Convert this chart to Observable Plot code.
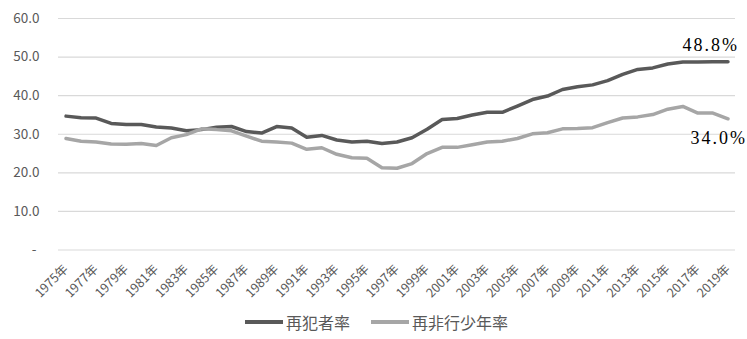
<!DOCTYPE html>
<html>
<head>
<meta charset="utf-8">
<script src="https://cdn.jsdelivr.net/npm/d3@7"></script>
<script src="https://cdn.jsdelivr.net/npm/@observablehq/plot@0.6"></script>
<style>
  body { margin: 0; background: #fff; font-family: "Noto Sans CJK JP", "Noto Sans", sans-serif; }
  #chart { width: 747px; }
  .legend { display: flex; align-items: center; height: 34px; margin-left: 245px; font-size: 16px; color: #595959; }
  .item { display: flex; align-items: center; margin-right: 21px; }
  .sw { width: 38px; height: 3.5px; margin-right: 3px; }
</style>
</head>
<body>
<div id="chart"></div>
<script>
const years = d3.range(1975, 2020);
const seriesNames = ["再犯者率", "再非行少年率"];
const seriesColors = ["#595959", "#a6a6a6"];
const recidivism = [
  34.7, 34.3, 34.2, 32.8, 32.5, 32.5, 31.9, 31.6, 30.9, 31.2,
  31.8, 32.0, 30.7, 30.3, 32.0, 31.6, 29.2, 29.7, 28.5, 28.0,
  28.2, 27.6, 28.0, 29.1, 31.3, 33.8, 34.1, 35.0, 35.7, 35.7,
  37.3, 39.0, 39.9, 41.6, 42.3, 42.8, 43.9, 45.5, 46.8, 47.2,
  48.2, 48.7, 48.7, 48.8, 48.8
];
const juvenile = [
  28.9, 28.2, 28.0, 27.5, 27.4, 27.6, 27.1, 29.1, 29.9, 31.4,
  31.2, 30.9, 29.5, 28.2, 28.0, 27.7, 26.1, 26.5, 24.8, 23.9,
  23.8, 21.3, 21.2, 22.4, 25.0, 26.6, 26.6, 27.3, 28.0, 28.2,
  28.9, 30.1, 30.4, 31.4, 31.5, 31.7, 33.0, 34.2, 34.5, 35.1,
  36.5, 37.2, 35.5, 35.5, 34.0
];
const yTicks = [0, 10, 20, 30, 40, 50, 60];
const xTicks = d3.range(1975, 2020, 2);
const endLabels = ["48.8%", "34.0%"];

const rows = [];
years.forEach((y, i) => {
  rows.push({year: y, value: recidivism[i], series: seriesNames[0]});
  rows.push({year: y, value: juvenile[i], series: seriesNames[1]});
});
const last = years.length - 1;

const chart = Plot.plot({
  width: 747,
  height: 305,
  marginTop: 18,
  marginBottom: 55.5,
  marginLeft: 58,
  marginRight: 12,
  style: {fontFamily: "'Noto Sans CJK JP', 'Noto Sans', sans-serif", background: "#fff"},
  x: {domain: [1974.5, 2019.5], axis: null},
  y: {domain: [0, 60], axis: null},
  color: {domain: seriesNames, range: seriesColors},
  marks: [
    Plot.gridY(yTicks, {stroke: "#d9d9d9", strokeOpacity: 1, strokeWidth: 1.2}),
    Plot.axisY(yTicks, {tickSize: 0, tickPadding: 19, fontSize: 13.5, fill: "#595959", label: null,
      tickFormat: d => d === 0 ? "-\u00a0" : d.toFixed(1)}),
    Plot.text(xTicks, {x: d => d, y: () => 0, text: d => d + "年", rotate: -45, textAnchor: "end",
      dx: 0, dy: 17, fontSize: 12.5, fill: "#595959"}),
    Plot.line(rows, {x: "year", y: "value", z: "series", stroke: "series", strokeWidth: 3.5,
      curve: "linear", strokeLinejoin: "round", strokeLinecap: "round"}),
    Plot.text([0], {x: () => years[last], y: () => recidivism[last], text: () => endLabels[0],
      textAnchor: "end", lineAnchor: "bottom", dx: 11, dy: -11, fontSize: 18,
      fontFamily: "'Liberation Serif', serif", fill: "#000"}),
    Plot.text([0], {x: () => years[last], y: () => juvenile[last], text: () => endLabels[1],
      textAnchor: "end", lineAnchor: "bottom", dx: 19, dy: 25.5, fontSize: 18,
      fontFamily: "'Liberation Serif', serif", fill: "#000"})
  ]
});
d3.select(chart).selectAll("text").filter(function() { return this.textContent.includes("%"); })
  .attr("letter-spacing", "2px");
document.getElementById("chart").appendChild(chart);

const legend = document.createElement("div");
legend.className = "legend";
seriesNames.forEach((n, i) => {
  const it = document.createElement("div");
  it.className = "item";
  const sw = document.createElement("div");
  sw.className = "sw";
  sw.style.background = seriesColors[i];
  const t = document.createElement("span");
  t.textContent = n;
  it.appendChild(sw);
  it.appendChild(t);
  legend.appendChild(it);
});
document.getElementById("chart").appendChild(legend);
</script>
</body>
</html>
